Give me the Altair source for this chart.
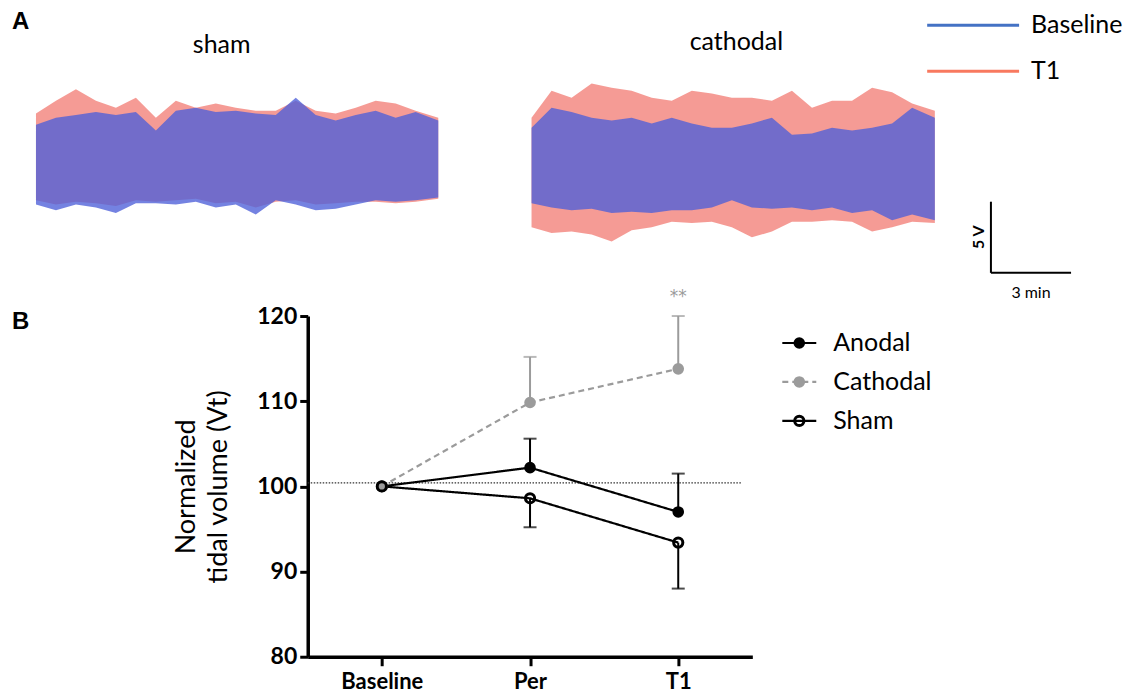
import altair as alt
import pandas as pd

FONT = "Lato"

# ---------------- Panel A : respiratory trace envelopes (volts) ----------------
trace_time = [0, 0.75, 1.5, 2.25, 3.0, 3.75, 4.5, 5.25, 6.0, 6.75, 7.5,
              8.25, 9.0, 9.75, 10.5, 11.25, 12.0, 12.75, 13.5, 14.25, 15.1]

sham_t1_upper = [3.0, 3.9, 4.7, 3.9, 3.4, 4.1, 2.7, 3.9, 3.4, 3.7, 3.4, 3.2, 3.2, 3.9, 3.2, 3.0, 3.4, 3.9, 3.7, 3.2, 2.7]
sham_t1_lower = [-3.1, -3.4, -3.2, -3.3, -3.5, -3.1, -3.2, -3.1, -3.0, -3.3, -3.2, -3.6, -3.2, -3.1, -3.4, -3.3, -3.2, -3.2, -3.3, -3.2, -3.0]
sham_base_upper = [2.2, 2.7, 2.9, 3.1, 2.9, 3.1, 1.8, 3.2, 3.4, 3.1, 3.2, 3.0, 2.9, 4.1, 2.9, 2.5, 2.9, 3.2, 2.7, 3.1, 2.5]
sham_base_lower = [-3.4, -3.8, -3.4, -3.6, -4.0, -3.3, -3.3, -3.4, -3.2, -3.6, -3.4, -4.1, -3.1, -3.4, -3.8, -3.7, -3.4, -3.1, -3.2, -3.1, -2.9]

cath_t1_upper = [2.7, 4.6, 4.1, 5.1, 4.8, 4.6, 4.1, 3.9, 4.6, 4.4, 4.1, 4.1, 3.9, 4.6, 3.4, 3.9, 3.9, 4.8, 4.5, 3.7, 3.2]
cath_t1_lower = [-5.0, -5.4, -5.3, -5.5, -6.0, -5.2, -5.0, -4.6, -4.7, -4.6, -5.0, -5.7, -5.3, -4.6, -4.6, -4.5, -4.6, -5.3, -5.0, -4.6, -4.7]
cath_base_upper = [2.0, 3.4, 3.1, 2.7, 2.5, 2.7, 2.3, 2.7, 2.3, 2.0, 2.0, 2.3, 2.7, 1.5, 1.6, 2.0, 1.8, 2.0, 2.3, 3.4, 2.7]
cath_base_lower = [-3.3, -3.6, -3.8, -3.7, -4.0, -3.9, -4.0, -3.8, -3.8, -3.6, -3.1, -3.6, -3.7, -3.6, -3.8, -3.6, -4.0, -3.8, -4.5, -4.1, -4.5]

trace_series = ["Baseline", "T1"]
legend_colors = ["#4472c4", "#f8795f"]
trace_fill = ["#4d5fd8", "#f4908a"]
scale_bar_volts = 5
scale_bar_minutes = 3

# ---------------- Panel B : normalized tidal volume ----------------
timepoints = ["Baseline", "Per", "T1"]
tp_pos = [0, 1, 2]
series = ["Anodal", "Cathodal", "Sham"]
anodal_mean = [100.0, 102.2, 97.0]
anodal_err = [None, 105.6, 101.5]
cathodal_mean = [100.0, 109.85, 113.8]
cathodal_err = [None, 115.2, 120.0]
sham_mean = [100.0, 98.6, 93.4]
sham_err = [None, 95.2, 88.0]
reference_level = 100.4
signif_label = "**"

series_colors = ["#000000", "#9b9b9b", "#000000"]
series_dash = [[1, 0], [6, 4], [1, 0]]

# ================= build panel B =================
rows = []
for name, means, errs in zip(series, [anodal_mean, cathodal_mean, sham_mean],
                             [anodal_err, cathodal_err, sham_err]):
    for p, m, e in zip(tp_pos, means, errs):
        rows.append({"series": name, "pos": p, "mean": m, "err": e})
dfB = pd.DataFrame(rows)
dfErr = dfB.dropna(subset=["err"])

xsB = alt.Scale(domain=[-0.5, 2.5], nice=False, zero=False)
ysB = alt.Scale(domain=[80, 120], nice=False, zero=False)
color_enc = alt.Color("series:N", scale=alt.Scale(domain=series, range=series_colors), legend=None)
dash_enc = alt.StrokeDash("series:N", scale=alt.Scale(domain=series, range=series_dash), legend=None)

label_expr = "[" + ",".join("'" + t + "'" for t in timepoints) + "][datum.value]"
axX = alt.Axis(values=tp_pos, labelExpr=label_expr, grid=False, title=None,
               domainColor="black", domainWidth=3.5, tickColor="black", tickWidth=3,
               tickSize=9, labelFont=FONT, labelFontSize=22, labelFontWeight="bold",
               labelColor="black", labelPadding=6)
axY = alt.Axis(values=[80, 90, 100, 110, 120], grid=False,
               title=["Normalized", "tidal volume (Vt)"], titleFont=FONT,
               titleFontSize=27, titleFontWeight="normal", titleColor="black",
               titleLineHeight=32, titlePadding=24,
               domainColor="black", domainWidth=3.5, tickColor="black", tickWidth=3,
               tickSize=8, labelFont=FONT, labelFontSize=23, labelFontWeight="bold",
               labelColor="black", labelPadding=3)

ref_df = pd.DataFrame({"x0": [-0.5], "x1": [2.43], "y": [reference_level]})
ref = alt.Chart(ref_df).mark_rule(color="#333333", strokeWidth=1.3, strokeDash=[1.5, 1.5]).encode(
    x=alt.X("x0:Q", scale=xsB, axis=axX), x2="x1:Q",
    y=alt.Y("y:Q", scale=ysB, axis=axY))

whisk = alt.Chart(dfErr).mark_rule(strokeWidth=2).encode(
    x="pos:Q", y="mean:Q", y2="err:Q", color=color_enc)
caps = alt.Chart(dfErr).mark_tick(orient="horizontal", size=13, thickness=2).encode(
    x="pos:Q", y="err:Q", color=color_enc)
lines = alt.Chart(dfB).mark_line(strokeWidth=2.2).encode(
    x="pos:Q", y="mean:Q", color=color_enc, strokeDash=dash_enc, detail="series:N")

pt_an = alt.Chart(dfB).transform_filter(alt.datum.series == "Anodal").mark_circle(
    size=135, color=series_colors[0], opacity=1).encode(x="pos:Q", y="mean:Q")
pt_ca = alt.Chart(dfB).transform_filter(alt.datum.series == "Cathodal").mark_circle(
    size=135, color=series_colors[1], opacity=1).encode(x="pos:Q", y="mean:Q")
pt_sh = alt.Chart(dfB).transform_filter(alt.datum.series == "Sham").mark_point(
    shape="circle", size=85, filled=False, strokeWidth=3, color=series_colors[2],
    opacity=1).encode(x="pos:Q", y="mean:Q")

sig_df = pd.DataFrame({"pos": [tp_pos[2]], "y": [122.2], "label": [signif_label]})
sig = alt.Chart(sig_df).mark_text(font="DejaVu Sans", fontSize=17, color="#9b9b9b",
                                  baseline="middle").encode(
    x="pos:Q", y="y:Q", text="label:N")

one = pd.DataFrame({"k": [0]})
letterB = alt.Chart(one).mark_text(text="B", font="Liberation Sans", fontWeight="bold",
                                   fontSize=24, align="left", baseline="middle").encode(
    x=alt.value(-296), y=alt.value(6))

legB = []
for i, name in enumerate(series):
    yv = 27 + 39 * i
    ldf = pd.DataFrame({"series": [name]})
    legB.append(alt.Chart(ldf).mark_rule(strokeWidth=2.2).encode(
        x=alt.value(475), x2=alt.value(509), y=alt.value(yv), color=color_enc, strokeDash=dash_enc))
    if name == "Sham":
        legB.append(alt.Chart(ldf).mark_point(shape="circle", size=85, filled=False, strokeWidth=3,
                                              color=series_colors[i], opacity=1).encode(
            x=alt.value(492), y=alt.value(yv)))
    else:
        legB.append(alt.Chart(ldf).mark_circle(size=135, color=series_colors[i], opacity=1).encode(
            x=alt.value(492), y=alt.value(yv)))
    legB.append(alt.Chart(ldf).mark_text(font=FONT, fontSize=25, align="left", baseline="middle",
                                         color="black").encode(
        x=alt.value(526), y=alt.value(yv), text="series:N"))

panelB = alt.layer(ref, whisk, caps, lines, pt_an, pt_ca, pt_sh, sig, letterB, *legB)


# ================= build panel A =================
def trace_group(t1_hi, t1_lo, b_hi, b_lo, x_range, title, title_t, title_v):
    df = pd.DataFrame({"t": trace_time, "t1_hi": t1_hi, "t1_lo": t1_lo,
                       "b_hi": b_hi, "b_lo": b_lo})
    xs = alt.Scale(domain=[0, 15.15], range=x_range, nice=False, zero=False)
    ys = alt.Scale(domain=[-6.6, 6.6], range=[-66, -254], nice=False, zero=False)
    a1 = alt.Chart(df).mark_area(color=trace_fill[1], opacity=0.9, interpolate="linear").encode(
        x=alt.X("t:Q", scale=xs, axis=None),
        y=alt.Y("t1_lo:Q", scale=ys, axis=None), y2="t1_hi:Q")
    a2 = alt.Chart(df).mark_area(color=trace_fill[0], opacity=0.78, interpolate="linear").encode(
        x="t:Q", y="b_lo:Q", y2="b_hi:Q")
    tdf = pd.DataFrame({"t": [title_t], "v": [title_v], "label": [title]})
    ttl = alt.Chart(tdf).mark_text(font=FONT, fontSize=25, color="black").encode(
        x="t:Q", y="v:Q", text="label:N")
    return [a1, a2, ttl]


sham_layers = trace_group(sham_t1_upper, sham_t1_lower, sham_base_upper, sham_base_lower,
                          [-272, 132], "sham", 6.97, 7.8)
cath_layers = trace_group(cath_t1_upper, cath_t1_lower, cath_base_upper, cath_base_lower,
                          [224, 629], "cathodal", 7.67, 8.0)

# scale bars (drawn through the cathodal trace scales)
bar_t0, bar_v0 = 17.2, -8.2
vbar = alt.Chart(pd.DataFrame({"t": [bar_t0], "v0": [bar_v0], "v1": [bar_v0 + scale_bar_volts]})).mark_rule(
    color="black", strokeWidth=2).encode(x="t:Q", y="v0:Q", y2="v1:Q")
hbar = alt.Chart(pd.DataFrame({"t0": [bar_t0], "t1": [bar_t0 + scale_bar_minutes], "v": [bar_v0]})).mark_rule(
    color="black", strokeWidth=2).encode(x="t0:Q", x2="t1:Q", y="v:Q")
vlab = alt.Chart(pd.DataFrame({"t": [bar_t0 - 0.45], "v": [bar_v0 + scale_bar_volts / 2],
                               "label": [f"{scale_bar_volts} V"]})).mark_text(
    font=FONT, fontSize=16, fontWeight="bold", angle=270, color="black").encode(
    x="t:Q", y="v:Q", text="label:N")
hlab = alt.Chart(pd.DataFrame({"t": [bar_t0 + scale_bar_minutes / 2], "v": [-9.6],
                               "label": [f"{scale_bar_minutes} min"]})).mark_text(
    font=FONT, fontSize=16, color="black").encode(x="t:Q", y="v:Q", text="label:N")

letterA = alt.Chart(one).mark_text(text="A", font="Liberation Sans", fontWeight="bold",
                                   fontSize=24, align="left", baseline="middle").encode(
    x=alt.value(-296), y=alt.value(-294))

legA = []
for i, name in enumerate(trace_series):
    yv = -291 + 46 * i
    legA.append(alt.Chart(one).mark_rule(color=legend_colors[i], strokeWidth=3).encode(
        x=alt.value(620), x2=alt.value(712), y=alt.value(yv)))
    legA.append(alt.Chart(one).mark_text(text=name, font=FONT, fontSize=25, align="left",
                                         baseline="middle", color="black").encode(
        x=alt.value(724), y=alt.value(yv)))

shamGroup = alt.layer(*sham_layers, letterA)
cathGroup = alt.layer(*cath_layers, vbar, hbar, vlab, hlab, *legA)

chart = alt.layer(panelB, shamGroup, cathGroup).resolve_scale(
    x="independent", y="independent"
).properties(
    width=445, height=341,
    padding={"left": 4, "top": 2, "right": 5, "bottom": 0},
).configure(font=FONT).configure_view(strokeWidth=0, stroke="transparent")

chart.save("out.html", embed_options={"renderer": "svg", "actions": False})
